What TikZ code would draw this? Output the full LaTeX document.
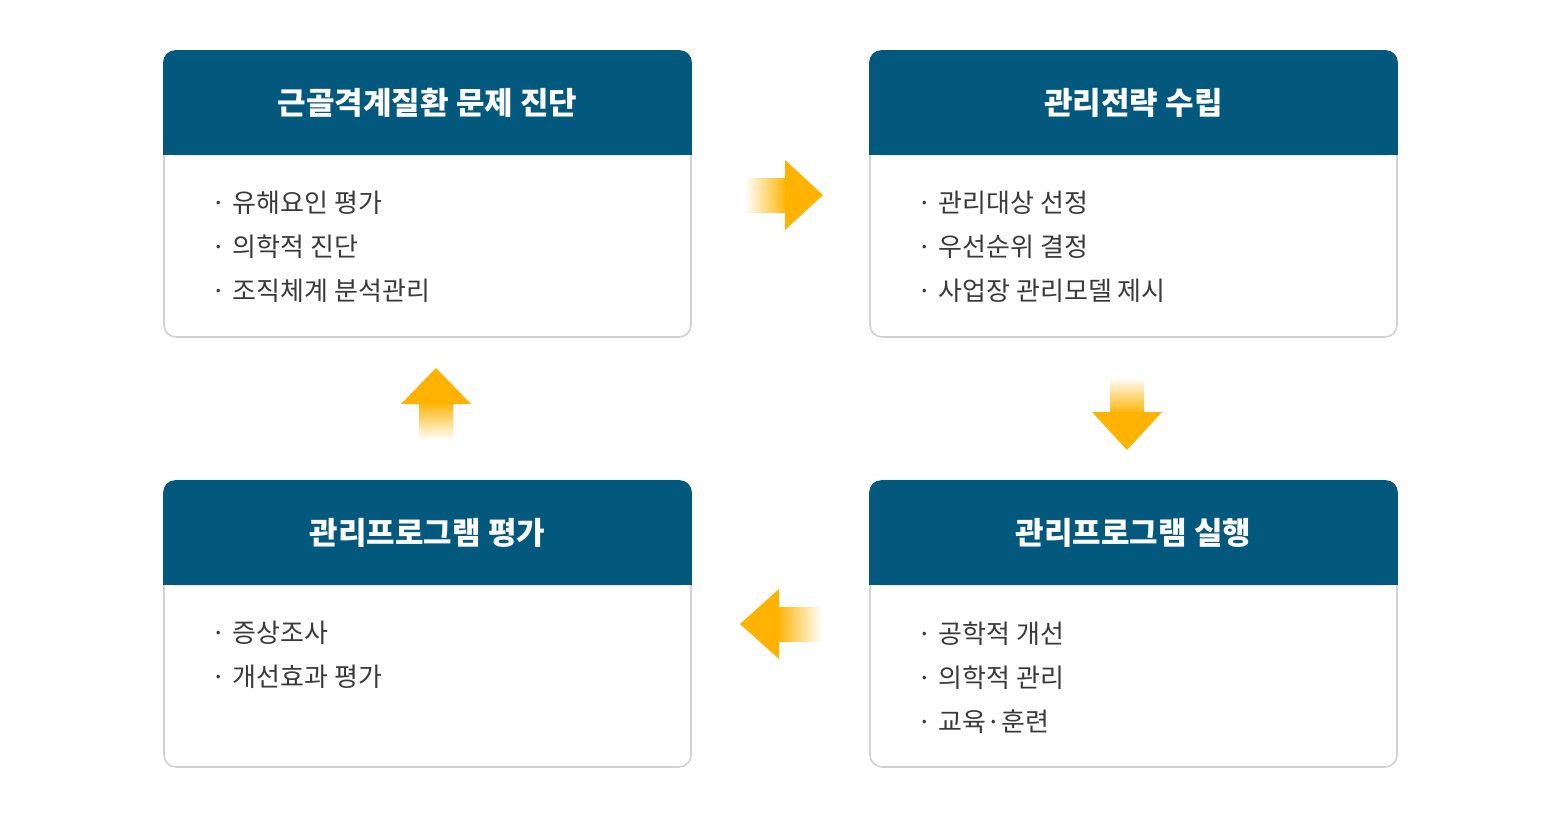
\documentclass[tikz,border=0pt]{standalone}
\usepackage{fontspec}
\setmainfont{Noto Sans CJK KR}
\usetikzlibrary{positioning}
\definecolor{hdrblue}{HTML}{03587E}
\definecolor{arroworange}{HTML}{FFB300}
\definecolor{cardline}{HTML}{D2D2D2}
\definecolor{itemtext}{HTML}{3A3A3A}
\begin{document}
\begin{tikzpicture}[
		x=0.5pt, y=-0.5pt,
		card/.style={draw=cardline, line width=0.8pt, fill=white, rounded corners=6pt,
			minimum width=263.5pt, minimum height=143pt, inner sep=0pt},
		header/.style={fill=hdrblue, minimum width=263.5pt, minimum height=52.5pt, inner sep=0pt,
			text=white, font=\fontsize{15.5}{18}\selectfont\bfseries},
		items/.style={align=left, inner sep=0pt, text=itemtext,
			font=\fontsize{13}{22}\selectfont},
		shaft/.style={draw=none},
		head/.style={fill=arroworange, draw=none}
	]
	\useasboundingbox (0,0) rectangle (1560,821);
	% Tarjetas
	\node[card] (diag) at (427.5,194) {};
	\node[card] (plan) at (1133.5,194) {};
	\node[card] (run) at (1133.5,624) {};
	\node[card] (eval) at (427.5,624) {};
	% Cabeceras
	\foreach \c in {diag,plan,run,eval}{
		\fill[hdrblue, rounded corners=6pt] (\c.north west) rectangle ([yshift=-52.5pt]\c.north east);
		\fill[hdrblue] ([yshift=-30pt]\c.north west) rectangle ([yshift=-52.5pt]\c.north east);
	}
	\node[header, fill=none, below=0pt of diag.north] (diagT) {근골격계질환 문제 진단};
	\node[header, fill=none, below=0pt of plan.north] (planT) {관리전략 수립};
	\node[header, fill=none, below=0pt of run.north] (runT) {관리프로그램 실행};
	\node[header, fill=none, below=0pt of eval.north] (evalT) {관리프로그램 평가};
	% Listas
	\node[items, below right=17.5pt and 23.5pt of diagT.south west] (diagL) {·\;유해요인 평가\\·\;의학적 진단\\·\;조직체계 분석관리};
	\node[items, below right=17.5pt and 23.5pt of planT.south west] (planL) {·\;관리대상 선정\\·\;우선순위 결정\\·\;사업장 관리모델 제시};
	\node[items, below right=17.5pt and 23.5pt of runT.south west] (runL) {·\;공학적 개선\\·\;의학적 관리\\·\;교육·훈련};
	\node[items, below right=17.5pt and 23.5pt of evalT.south west] (evalL) {·\;증상조사\\·\;개선효과 평가};
	% Flechas
	\shade[shaft, left color=white, right color=arroworange] (745,178) rectangle (787,212);
	\fill[head] (785,160) -- (823,195) -- (785,230) -- cycle;
	\shade[shaft, top color=white, bottom color=arroworange] (1110,377) rectangle (1144,414);
	\fill[head] (1092,412) -- (1162,412) -- (1127,450) -- cycle;
	\shade[shaft, left color=arroworange, right color=white] (777,607) rectangle (822,641);
	\fill[head] (779,589) -- (740,624) -- (779,659) -- cycle;
	\shade[shaft, top color=arroworange, bottom color=white] (419,402) rectangle (453,440);
	\fill[head] (401,404) -- (436,368) -- (471,404) -- cycle;
\end{tikzpicture}
\end{document}
